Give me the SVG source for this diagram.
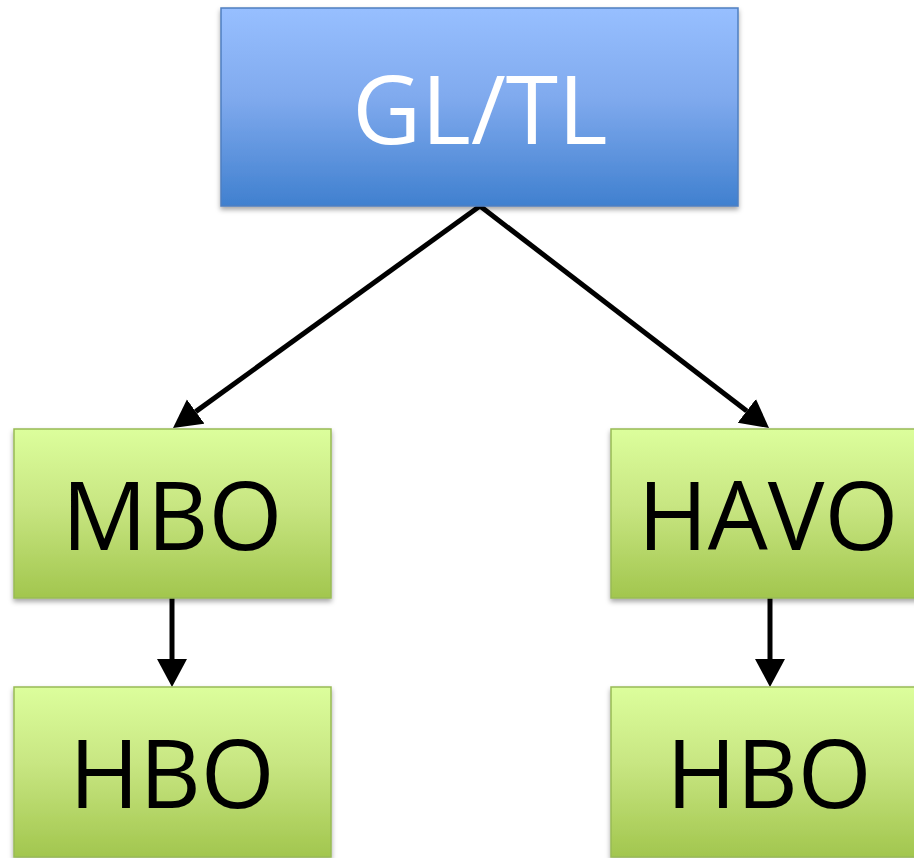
<svg xmlns="http://www.w3.org/2000/svg" width="914" height="858" viewBox="0 0 914 858">
  <defs>
    <linearGradient id="blueGrad" x1="0" y1="0" x2="0" y2="1">
      <stop offset="0" stop-color="#97BFFF"/>
      <stop offset="0.45" stop-color="#80AAEE"/>
      <stop offset="1" stop-color="#4080CF"/>
    </linearGradient>
    <linearGradient id="greenGrad" x1="0" y1="0" x2="0" y2="1">
      <stop offset="0" stop-color="#DCFE9C"/>
      <stop offset="0.45" stop-color="#C8E682"/>
      <stop offset="1" stop-color="#A2C64E"/>
    </linearGradient>
    <filter id="shadow" x="-10%" y="-10%" width="120%" height="130%">
      <feDropShadow dx="0" dy="3" stdDeviation="2.5" flood-color="#000000" flood-opacity="0.35"/>
    </filter>
    <marker id="arrow" markerUnits="userSpaceOnUse" markerWidth="32" markerHeight="32" refX="0" refY="15" orient="auto">
      <path d="M0,0 L28,15 L0,30 Z" fill="#000000"/>
    </marker>
  </defs>
  <style>
    .blue { fill: url(#blueGrad); stroke: #4F7FC0; stroke-width: 1.5; filter: url(#shadow); }
    .green { fill: url(#greenGrad); stroke: #98BB55; stroke-width: 1.5; filter: url(#shadow); }
    .label { font-family: "Open Sans", "Noto Sans", "Liberation Sans", sans-serif; font-size: 95px; text-anchor: middle; }
    .white { fill: #FFFFFF; }
    .black { fill: #000000; }
    .conn { stroke: #000000; stroke-width: 5; fill: none; marker-end: url(#arrow); }
  </style>
  <rect width="914" height="858" fill="#FFFFFF"/>

  <g id="connectors">
    <line class="conn" x1="480" y1="206" x2="195.7" y2="411.6"/>
    <line class="conn" x1="480" y1="206" x2="746.8" y2="410.9"/>
    <line class="conn" x1="172" y1="598" x2="172" y2="659"/>
    <line class="conn" x1="770" y1="598" x2="770" y2="659"/>
  </g>

  <g id="node-gltl">
    <rect class="blue" x="221" y="8" width="517" height="198"/>
    <text class="label white" x="480" y="144">GL/TL</text>
  </g>

  <g id="node-mbo">
    <rect class="green" x="14" y="429" width="317" height="169"/>
    <text class="label black" x="172" y="550">MBO</text>
  </g>

  <g id="node-havo">
    <rect class="green" x="611" y="429" width="317" height="169"/>
    <text class="label black" x="768" y="550">HAVO</text>
  </g>

  <g id="node-hbo-left">
    <rect class="green" x="14" y="687" width="317" height="170"/>
    <text class="label black" x="172" y="808">HBO</text>
  </g>

  <g id="node-hbo-right">
    <rect class="green" x="611" y="687" width="317" height="170"/>
    <text class="label black" x="769" y="808">HBO</text>
  </g>
</svg>
